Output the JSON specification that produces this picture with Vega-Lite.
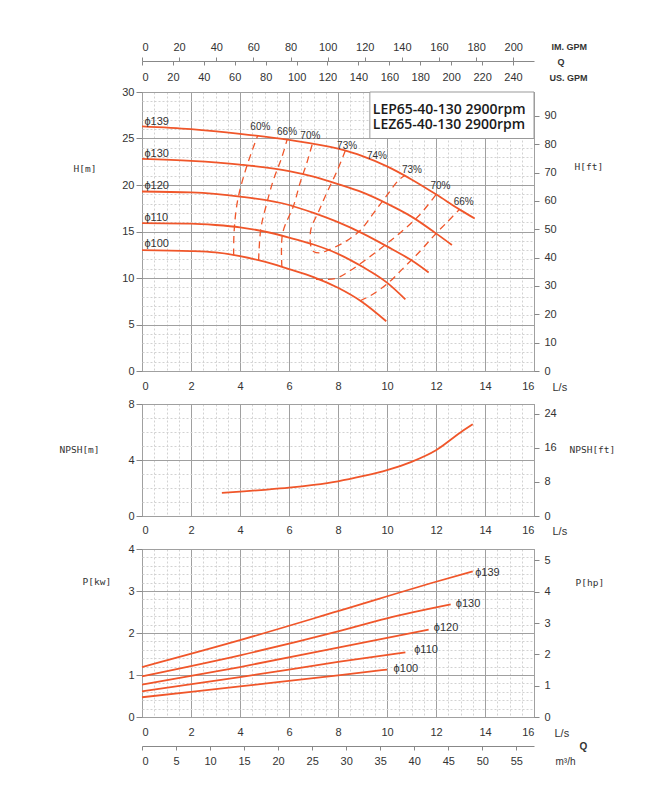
{
  "$schema": "https://vega.github.io/schema/vega-lite/v6.json",
  "padding": {"left": 58, "top": 40, "right": 5, "bottom": 5},
  "bounds": "flush",
  "spacing": 33,
  "config": {
    "axis": {"labelFont": "Liberation Sans", "labelFontSize": 11, "labelColor": "#333", "titleFont": "DejaVu Sans Mono", "titleFontSize": 9.5, "titleFontWeight": "normal", "titleColor": "#333", "tickColor": "#888", "domainColor": "#888", "titleAngle": 0, "titleAlign": "left", "titleBaseline": "middle"},
    "view": {"stroke": "#888"},
    "text": {"font": "Liberation Sans"}
  },
  "datasets": {
    "head": [
      {"d": "139", "Q": 0, "H": 26.3}, {"d": "139", "Q": 2, "H": 26.0}, {"d": "139", "Q": 4, "H": 25.5}, {"d": "139", "Q": 6, "H": 24.85}, {"d": "139", "Q": 8, "H": 23.9}, {"d": "139", "Q": 9, "H": 23.1}, {"d": "139", "Q": 10, "H": 22.0}, {"d": "139", "Q": 11, "H": 20.6}, {"d": "139", "Q": 12, "H": 19.0}, {"d": "139", "Q": 13, "H": 17.3}, {"d": "139", "Q": 13.58, "H": 16.4},
      {"d": "130", "Q": 0, "H": 22.8}, {"d": "130", "Q": 2, "H": 22.6}, {"d": "130", "Q": 4, "H": 22.2}, {"d": "130", "Q": 6, "H": 21.5}, {"d": "130", "Q": 7, "H": 20.9}, {"d": "130", "Q": 8, "H": 20.1}, {"d": "130", "Q": 9, "H": 19.2}, {"d": "130", "Q": 10, "H": 18.0}, {"d": "130", "Q": 11, "H": 16.6}, {"d": "130", "Q": 12, "H": 14.8}, {"d": "130", "Q": 12.65, "H": 13.55},
      {"d": "120", "Q": 0, "H": 19.3}, {"d": "120", "Q": 2, "H": 19.2}, {"d": "120", "Q": 4, "H": 18.75}, {"d": "120", "Q": 6, "H": 17.85}, {"d": "120", "Q": 7, "H": 17.0}, {"d": "120", "Q": 8, "H": 16.0}, {"d": "120", "Q": 9, "H": 14.8}, {"d": "120", "Q": 10, "H": 13.4}, {"d": "120", "Q": 11, "H": 11.9}, {"d": "120", "Q": 11.7, "H": 10.6},
      {"d": "110", "Q": 0, "H": 15.9}, {"d": "110", "Q": 2, "H": 15.85}, {"d": "110", "Q": 3, "H": 15.7}, {"d": "110", "Q": 4, "H": 15.45}, {"d": "110", "Q": 5, "H": 15.0}, {"d": "110", "Q": 6, "H": 14.35}, {"d": "110", "Q": 7, "H": 13.6}, {"d": "110", "Q": 8, "H": 12.6}, {"d": "110", "Q": 9, "H": 11.2}, {"d": "110", "Q": 10, "H": 9.5}, {"d": "110", "Q": 10.75, "H": 7.7},
      {"d": "100", "Q": 0, "H": 13.0}, {"d": "100", "Q": 2, "H": 12.9}, {"d": "100", "Q": 3, "H": 12.75}, {"d": "100", "Q": 4, "H": 12.35}, {"d": "100", "Q": 5, "H": 11.75}, {"d": "100", "Q": 6, "H": 10.95}, {"d": "100", "Q": 7, "H": 10.1}, {"d": "100", "Q": 8, "H": 8.95}, {"d": "100", "Q": 9, "H": 7.4}, {"d": "100", "Q": 9.97, "H": 5.35}
    ],
    "eff": [
      {"e": "60", "i": 0, "Q": 3.74, "H": 12.45}, {"e": "60", "i": 1, "Q": 3.76, "H": 15.0}, {"e": "60", "i": 2, "Q": 3.9, "H": 18.3}, {"e": "60", "i": 3, "Q": 4.25, "H": 21.8}, {"e": "60", "i": 4, "Q": 4.72, "H": 25.3},
      {"e": "66L", "i": 0, "Q": 4.76, "H": 11.9}, {"e": "66L", "i": 1, "Q": 4.85, "H": 15.3}, {"e": "66L", "i": 2, "Q": 5.1, "H": 18.1}, {"e": "66L", "i": 3, "Q": 5.37, "H": 20.6}, {"e": "66L", "i": 4, "Q": 5.71, "H": 23.0}, {"e": "66L", "i": 5, "Q": 5.92, "H": 24.85},
      {"e": "70L", "i": 0, "Q": 5.71, "H": 11.2}, {"e": "70L", "i": 1, "Q": 5.74, "H": 14.8}, {"e": "70L", "i": 2, "Q": 6.19, "H": 17.8}, {"e": "70L", "i": 3, "Q": 6.46, "H": 20.3}, {"e": "70L", "i": 4, "Q": 6.73, "H": 22.4}, {"e": "70L", "i": 5, "Q": 6.95, "H": 24.4},
      {"e": "73", "i": 0, "Q": 8.3, "H": 23.7}, {"e": "73", "i": 1, "Q": 7.96, "H": 21.5}, {"e": "73", "i": 2, "Q": 7.55, "H": 19.2}, {"e": "73", "i": 3, "Q": 7.2, "H": 17.1}, {"e": "73", "i": 4, "Q": 6.9, "H": 15.3}, {"e": "73", "i": 5, "Q": 6.88, "H": 13.6}, {"e": "73", "i": 6, "Q": 7.0, "H": 12.85}, {"e": "73", "i": 7, "Q": 7.3, "H": 12.7}, {"e": "73", "i": 8, "Q": 7.55, "H": 12.95}, {"e": "73", "i": 9, "Q": 8.23, "H": 13.8}, {"e": "73", "i": 10, "Q": 8.9, "H": 15.1}, {"e": "73", "i": 11, "Q": 9.46, "H": 17.0}, {"e": "73", "i": 12, "Q": 10.0, "H": 18.9}, {"e": "73", "i": 13, "Q": 10.5, "H": 20.6}, {"e": "73", "i": 14, "Q": 10.72, "H": 21.0},
      {"e": "70R", "i": 0, "Q": 7.1, "H": 9.85}, {"e": "70R", "i": 1, "Q": 7.9, "H": 9.95}, {"e": "70R", "i": 2, "Q": 8.5, "H": 10.8}, {"e": "70R", "i": 3, "Q": 9.2, "H": 12.1}, {"e": "70R", "i": 4, "Q": 9.9, "H": 13.5}, {"e": "70R", "i": 5, "Q": 10.6, "H": 15.0}, {"e": "70R", "i": 6, "Q": 11.3, "H": 16.7}, {"e": "70R", "i": 7, "Q": 12.0, "H": 18.95},
      {"e": "66R", "i": 0, "Q": 8.9, "H": 7.55}, {"e": "66R", "i": 1, "Q": 9.32, "H": 8.1}, {"e": "66R", "i": 2, "Q": 10.0, "H": 9.35}, {"e": "66R", "i": 3, "Q": 10.68, "H": 11.1}, {"e": "66R", "i": 4, "Q": 11.36, "H": 12.9}, {"e": "66R", "i": 5, "Q": 11.9, "H": 14.5}, {"e": "66R", "i": 6, "Q": 12.45, "H": 16.0}, {"e": "66R", "i": 7, "Q": 12.95, "H": 17.35}
    ],
    "pct": [
      {"t": "60%", "Q": 4.83, "H": 26.2}, {"t": "66%", "Q": 5.92, "H": 25.7}, {"t": "70%", "Q": 6.87, "H": 25.3}, {"t": "73%", "Q": 8.37, "H": 24.2},
      {"t": "74%", "Q": 9.59, "H": 23.1}, {"t": "73%", "Q": 11.02, "H": 21.65}, {"t": "70%", "Q": 12.18, "H": 19.9}, {"t": "66%", "Q": 13.13, "H": 18.2}
    ],
    "dlab": [
      {"t": "ϕ139", "Q": 0.1, "H": 26.8}, {"t": "ϕ130", "Q": 0.1, "H": 23.3}, {"t": "ϕ120", "Q": 0.1, "H": 19.9}, {"t": "ϕ110", "Q": 0.1, "H": 16.5}, {"t": "ϕ100", "Q": 0.1, "H": 13.65}
    ],
    "box": [{"Q1": 9.3, "Q2": 16, "H1": 25, "H2": 30}],
    "legend": [{"t": "LEP65-40-130 2900rpm", "Q": 9.42, "H": 28.1}, {"t": "LEZ65-40-130 2900rpm", "Q": 9.42, "H": 26.4}],
    "npsh": [
      {"Q": 3.26, "N": 1.65}, {"Q": 4, "N": 1.74}, {"Q": 5, "N": 1.87}, {"Q": 6, "N": 2.02}, {"Q": 7, "N": 2.22}, {"Q": 8, "N": 2.48}, {"Q": 9, "N": 2.84}, {"Q": 10, "N": 3.27}, {"Q": 11, "N": 3.87}, {"Q": 12, "N": 4.7}, {"Q": 13, "N": 5.97}, {"Q": 13.5, "N": 6.55}
    ],
    "pow": [
      {"d": "139", "Q": 0, "P": 1.19}, {"d": "139", "Q": 4, "P": 1.83}, {"d": "139", "Q": 8, "P": 2.52}, {"d": "139", "Q": 12, "P": 3.22}, {"d": "139", "Q": 13.5, "P": 3.47},
      {"d": "130", "Q": 0, "P": 0.97}, {"d": "130", "Q": 4, "P": 1.47}, {"d": "130", "Q": 8, "P": 2.04}, {"d": "130", "Q": 10, "P": 2.35}, {"d": "130", "Q": 12.6, "P": 2.68},
      {"d": "120", "Q": 0, "P": 0.77}, {"d": "120", "Q": 4, "P": 1.19}, {"d": "120", "Q": 8, "P": 1.65}, {"d": "120", "Q": 11.7, "P": 2.08},
      {"d": "110", "Q": 0, "P": 0.61}, {"d": "110", "Q": 4, "P": 0.95}, {"d": "110", "Q": 8, "P": 1.31}, {"d": "110", "Q": 10.75, "P": 1.54},
      {"d": "100", "Q": 0, "P": 0.47}, {"d": "100", "Q": 4, "P": 0.73}, {"d": "100", "Q": 8, "P": 0.99}, {"d": "100", "Q": 10, "P": 1.13}
    ],
    "plab": [
      {"t": "ϕ139", "Q": 13.6, "P": 3.42}, {"t": "ϕ130", "Q": 12.81, "P": 2.69}, {"t": "ϕ120", "Q": 11.91, "P": 2.12}, {"t": "ϕ110", "Q": 11.11, "P": 1.59}, {"t": "ϕ100", "Q": 10.27, "P": 1.15}
    ]
  },
  "vconcat": [
    {
      "width": 392, "height": 279,
      "resolve": {"scale": {"x": "independent", "y": "independent"}, "axis": {"x": "independent", "y": "independent"}},
      "layer": [
        {"data": {"values": [{}]}, "mark": {"type": "point", "opacity": 0},
          "encoding": {
            "x": {"datum": 0, "type": "quantitative", "scale": {"domain": [0, 16], "nice": false}, "axis": {"orient": "bottom", "values": [0.5,1,1.5,2.5,3,3.5,4.5,5,5.5,6.5,7,7.5,8.5,9,9.5,10.5,11,11.5,12.5,13,13.5,14.5,15,15.5], "grid": true, "gridColor": "#d2d2d2", "gridDash": [2, 2], "labels": false, "ticks": false, "domain": false, "title": null}},
            "y": {"datum": 0, "type": "quantitative", "scale": {"domain": [0, 30], "nice": false}, "axis": {"orient": "left", "values": [1,2,3,4,6,7,8,9,11,12,13,14,16,17,18,19,21,22,23,24,26,27,28,29], "grid": true, "gridColor": "#d2d2d2", "gridDash": [2, 2], "labels": false, "ticks": false, "domain": false, "title": null}}
          }},
        {"data": {"values": [{}]}, "mark": {"type": "point", "opacity": 0},
          "encoding": {
            "x": {"datum": 0, "type": "quantitative", "scale": {"domain": [0, 16], "nice": false}, "axis": {"orient": "bottom", "values": [0,2,4,6,8,10,12,14,16], "grid": true, "gridColor": "#a0a0a0", "ticks": false, "tickSize": 0, "labelPadding": 9, "domain": false, "title": "L/s", "titleFont": "Liberation Sans", "titleFontSize": 11, "titleX": 410, "titleY": 16}},
            "y": {"datum": 0, "type": "quantitative", "scale": {"domain": [0, 30], "nice": false}, "axis": {"orient": "left", "values": [0,5,10,15,20,25,30], "grid": true, "gridColor": "#a0a0a0", "tickSize": 6, "labelPadding": 2, "domain": false, "title": "H[m]", "titleX": -69, "titleY": 76}}
          }},
        {"data": {"values": [{}]}, "mark": {"type": "point", "opacity": 0},
          "encoding": {
            "x": {"datum": 0, "type": "quantitative", "scale": {"domain": [0, 16], "nice": false}, "axis": null},
            "y": {"datum": 0, "type": "quantitative", "scale": {"domain": [0, 98.425], "nice": false}, "axis": {"orient": "right", "values": [0,10,20,30,40,50,60,70,80,90], "grid": false, "tickSize": 5, "labelPadding": 5, "domain": false, "title": "H[ft]", "titleX": 40, "titleY": 74}}
          }},
        {"data": {"values": [{}]}, "mark": {"type": "point", "opacity": 0},
          "encoding": {
            "x": {"datum": 0, "type": "quantitative", "scale": {"domain": [0, 211.17], "nice": false}, "axis": {"orient": "top", "offset": 31, "values": [0,20,40,60,80,100,120,140,160,180,200], "grid": false, "tickSize": 4, "labelPadding": 5, "domain": true, "title": "IM. GPM", "titleFont": "Liberation Sans", "titleFontWeight": "bold", "titleFontSize": 9, "titleX": 409, "titleY": -15}},
            "y": {"datum": 0, "type": "quantitative", "scale": {"domain": [0, 30], "nice": false}, "axis": null}
          }},
        {"data": {"values": [{}]}, "mark": {"type": "point", "opacity": 0},
          "encoding": {
            "x": {"datum": 0, "type": "quantitative", "scale": {"domain": [0, 253.6], "nice": false}, "axis": {"orient": "top", "offset": 10, "values": [0,20,40,60,80,100,120,140,160,180,200,220,240], "grid": false, "ticks": false, "tickSize": 0, "labelPadding": 0, "domain": false, "title": "US. GPM", "titleFont": "Liberation Sans", "titleFontWeight": "bold", "titleFontSize": 9, "titleX": 407, "titleY": -5}},
            "y": {"datum": 0, "type": "quantitative", "scale": {"domain": [0, 30], "nice": false}, "axis": null}
          }},
        {"data": {"values": [{}]}, "mark": {"type": "point", "opacity": 0},
          "encoding": {
            "x": {"datum": 0, "type": "quantitative", "scale": {"domain": [0, 253.6], "nice": false}, "axis": {"orient": "top", "offset": 31, "values": [0,20,40,60,80,100,120,140,160,180,200,220,240], "grid": false, "labels": false, "tickSize": -4, "domain": false, "title": "Q", "titleFont": "Liberation Sans", "titleFontWeight": "bold", "titleFontSize": 9, "titleX": 415, "titleY": 0}},
            "y": {"datum": 0, "type": "quantitative", "scale": {"domain": [0, 30], "nice": false}, "axis": null}
          }},
        {"data": {"name": "head"}, "mark": {"type": "line", "color": "#f0562a", "strokeWidth": 1.8, "interpolate": "monotone"},
          "encoding": {
            "x": {"field": "Q", "type": "quantitative", "scale": {"domain": [0, 16], "nice": false}, "axis": null},
            "y": {"field": "H", "type": "quantitative", "scale": {"domain": [0, 30], "nice": false}, "axis": null},
            "detail": {"field": "d"}
          }},
        {"data": {"name": "eff"}, "mark": {"type": "line", "color": "#f0562a", "strokeWidth": 1.3, "strokeDash": [7, 5], "interpolate": "catmull-rom"},
          "encoding": {
            "x": {"field": "Q", "type": "quantitative", "scale": {"domain": [0, 16], "nice": false}, "axis": null},
            "y": {"field": "H", "type": "quantitative", "scale": {"domain": [0, 30], "nice": false}, "axis": null},
            "detail": {"field": "e"},
            "order": {"field": "i", "type": "quantitative"}
          }},
        {"data": {"name": "pct"}, "mark": {"type": "text", "fontSize": 10, "color": "#333", "align": "center", "baseline": "middle"},
          "encoding": {
            "x": {"field": "Q", "type": "quantitative", "scale": {"domain": [0, 16], "nice": false}, "axis": null},
            "y": {"field": "H", "type": "quantitative", "scale": {"domain": [0, 30], "nice": false}, "axis": null},
            "text": {"field": "t"}
          }},
        {"data": {"name": "dlab"}, "mark": {"type": "text", "fontSize": 11, "color": "#333", "align": "left", "baseline": "middle"},
          "encoding": {
            "x": {"field": "Q", "type": "quantitative", "scale": {"domain": [0, 16], "nice": false}, "axis": null},
            "y": {"field": "H", "type": "quantitative", "scale": {"domain": [0, 30], "nice": false}, "axis": null},
            "text": {"field": "t"}
          }},
        {"data": {"name": "box"}, "mark": {"type": "rect", "fill": "white", "stroke": "#999", "strokeWidth": 1},
          "encoding": {
            "x": {"field": "Q1", "type": "quantitative", "scale": {"domain": [0, 16], "nice": false}, "axis": null},
            "x2": {"field": "Q2"},
            "y": {"field": "H1", "type": "quantitative", "scale": {"domain": [0, 30], "nice": false}, "axis": null},
            "y2": {"field": "H2"}
          }},
        {"data": {"name": "legend"}, "mark": {"type": "text", "font": "Open Sans", "fontSize": 14, "fontWeight": 600, "color": "#1a1a1a", "align": "left", "baseline": "middle"},
          "encoding": {
            "x": {"field": "Q", "type": "quantitative", "scale": {"domain": [0, 16], "nice": false}, "axis": null},
            "y": {"field": "H", "type": "quantitative", "scale": {"domain": [0, 30], "nice": false}, "axis": null},
            "text": {"field": "t"}
          }}
      ]
    },
    {
      "width": 392, "height": 112,
      "resolve": {"scale": {"x": "independent", "y": "independent"}, "axis": {"x": "independent", "y": "independent"}},
      "layer": [
        {"data": {"values": [{}]}, "mark": {"type": "point", "opacity": 0},
          "encoding": {
            "x": {"datum": 0, "type": "quantitative", "scale": {"domain": [0, 16], "nice": false}, "axis": {"orient": "bottom", "values": [0.5,1,1.5,2.5,3,3.5,4.5,5,5.5,6.5,7,7.5,8.5,9,9.5,10.5,11,11.5,12.5,13,13.5,14.5,15,15.5], "grid": true, "gridColor": "#d2d2d2", "gridDash": [2, 2], "labels": false, "ticks": false, "domain": false, "title": null}},
            "y": {"datum": 0, "type": "quantitative", "scale": {"domain": [0, 8], "nice": false}, "axis": {"orient": "left", "values": [1,2,3,5,6,7], "grid": true, "gridColor": "#d2d2d2", "gridDash": [2, 2], "labels": false, "ticks": false, "domain": false, "title": null}}
          }},
        {"data": {"values": [{}]}, "mark": {"type": "point", "opacity": 0},
          "encoding": {
            "x": {"datum": 0, "type": "quantitative", "scale": {"domain": [0, 16], "nice": false}, "axis": {"orient": "bottom", "values": [0,2,4,6,8,10,12,14,16], "grid": true, "gridColor": "#a0a0a0", "ticks": false, "tickSize": 0, "labelPadding": 8, "domain": false, "title": "L/s", "titleFont": "Liberation Sans", "titleFontSize": 11, "titleX": 410, "titleY": 15}},
            "y": {"datum": 0, "type": "quantitative", "scale": {"domain": [0, 8], "nice": false}, "axis": {"orient": "left", "values": [0,4,8], "grid": true, "gridColor": "#a0a0a0", "tickSize": 6, "labelPadding": 2, "domain": false, "title": "NPSH[m]", "titleX": -83, "titleY": 45}}
          }},
        {"data": {"values": [{}]}, "mark": {"type": "point", "opacity": 0},
          "encoding": {
            "x": {"datum": 0, "type": "quantitative", "scale": {"domain": [0, 16], "nice": false}, "axis": null},
            "y": {"datum": 0, "type": "quantitative", "scale": {"domain": [0, 26.25], "nice": false}, "axis": {"orient": "right", "values": [0,8,16,24], "grid": false, "tickSize": 5, "labelPadding": 5, "domain": false, "title": "NPSH[ft]", "titleX": 35, "titleY": 45}}
          }},
        {"data": {"name": "npsh"}, "mark": {"type": "line", "color": "#f0562a", "strokeWidth": 1.8, "interpolate": "monotone"},
          "encoding": {
            "x": {"field": "Q", "type": "quantitative", "scale": {"domain": [0, 16], "nice": false}, "axis": null},
            "y": {"field": "N", "type": "quantitative", "scale": {"domain": [0, 8], "nice": false}, "axis": null}
          }}
      ]
    },
    {
      "width": 392, "height": 168,
      "resolve": {"scale": {"x": "independent", "y": "independent"}, "axis": {"x": "independent", "y": "independent"}},
      "layer": [
        {"data": {"values": [{}]}, "mark": {"type": "point", "opacity": 0},
          "encoding": {
            "x": {"datum": 0, "type": "quantitative", "scale": {"domain": [0, 16], "nice": false}, "axis": {"orient": "bottom", "values": [0.5,1,1.5,2.5,3,3.5,4.5,5,5.5,6.5,7,7.5,8.5,9,9.5,10.5,11,11.5,12.5,13,13.5,14.5,15,15.5], "grid": true, "gridColor": "#d2d2d2", "gridDash": [2, 2], "labels": false, "ticks": false, "domain": false, "title": null}},
            "y": {"datum": 0, "type": "quantitative", "scale": {"domain": [0, 4], "nice": false}, "axis": {"orient": "left", "values": [0.2,0.4,0.6,0.8,1.2,1.4,1.6,1.8,2.2,2.4,2.6,2.8,3.2,3.4,3.6,3.8], "grid": true, "gridColor": "#d2d2d2", "gridDash": [2, 2], "labels": false, "ticks": false, "domain": false, "title": null}}
          }},
        {"data": {"values": [{}]}, "mark": {"type": "point", "opacity": 0},
          "encoding": {
            "x": {"datum": 0, "type": "quantitative", "scale": {"domain": [0, 16], "nice": false}, "axis": {"orient": "bottom", "values": [0,2,4,6,8,10,12,14,16], "grid": true, "gridColor": "#a0a0a0", "ticks": false, "tickSize": 0, "labelPadding": 9, "domain": false, "title": "L/s", "titleFont": "Liberation Sans", "titleFontSize": 11, "titleX": 412, "titleY": 16}},
            "y": {"datum": 0, "type": "quantitative", "scale": {"domain": [0, 4], "nice": false}, "axis": {"orient": "left", "values": [0,1,2,3,4], "grid": true, "gridColor": "#a0a0a0", "tickSize": 6, "labelPadding": 2, "domain": false, "title": "P[kw]", "titleX": -60, "titleY": 32}}
          }},
        {"data": {"values": [{}]}, "mark": {"type": "point", "opacity": 0},
          "encoding": {
            "x": {"datum": 0, "type": "quantitative", "scale": {"domain": [0, 16], "nice": false}, "axis": null},
            "y": {"datum": 0, "type": "quantitative", "scale": {"domain": [0, 5.364], "nice": false}, "axis": {"orient": "right", "values": [0,1,2,3,4,5], "grid": false, "tickSize": 5, "labelPadding": 5, "domain": false, "title": "P[hp]", "titleX": 41, "titleY": 33}}
          }},
        {"data": {"values": [{}]}, "mark": {"type": "point", "opacity": 0},
          "encoding": {
            "x": {"datum": 0, "type": "quantitative", "scale": {"domain": [0, 57.6], "nice": false}, "axis": {"orient": "bottom", "offset": 29, "values": [0,5,10,15,20,25,30,35,40,45,50,55], "grid": false, "tickSize": 4, "labelPadding": 5, "domain": true, "title": "m³/h", "titleFont": "Liberation Sans", "titleFontSize": 10, "titleX": 413, "titleY": 15}},
            "y": {"datum": 0, "type": "quantitative", "scale": {"domain": [0, 4], "nice": false}, "axis": null}
          }},
        {"data": {"values": [{}]}, "mark": {"type": "point", "opacity": 0},
          "encoding": {
            "x": {"datum": 0, "type": "quantitative", "scale": {"domain": [0, 57.6], "nice": false}, "axis": {"orient": "bottom", "offset": 29, "values": [0], "grid": false, "labels": false, "ticks": false, "tickSize": 0, "domain": false, "title": "Q", "titleFont": "Liberation Sans", "titleFontWeight": "bold", "titleFontSize": 10, "titleX": 437, "titleY": 0}},
            "y": {"datum": 0, "type": "quantitative", "scale": {"domain": [0, 4], "nice": false}, "axis": null}
          }},
        {"data": {"name": "pow"}, "mark": {"type": "line", "color": "#f0562a", "strokeWidth": 1.8, "interpolate": "monotone"},
          "encoding": {
            "x": {"field": "Q", "type": "quantitative", "scale": {"domain": [0, 16], "nice": false}, "axis": null},
            "y": {"field": "P", "type": "quantitative", "scale": {"domain": [0, 4], "nice": false}, "axis": null},
            "detail": {"field": "d"}
          }},
        {"data": {"name": "plab"}, "mark": {"type": "text", "fontSize": 11, "color": "#333", "align": "left", "baseline": "middle"},
          "encoding": {
            "x": {"field": "Q", "type": "quantitative", "scale": {"domain": [0, 16], "nice": false}, "axis": null},
            "y": {"field": "P", "type": "quantitative", "scale": {"domain": [0, 4], "nice": false}, "axis": null},
            "text": {"field": "t"}
          }}
      ]
    }
  ]
}
